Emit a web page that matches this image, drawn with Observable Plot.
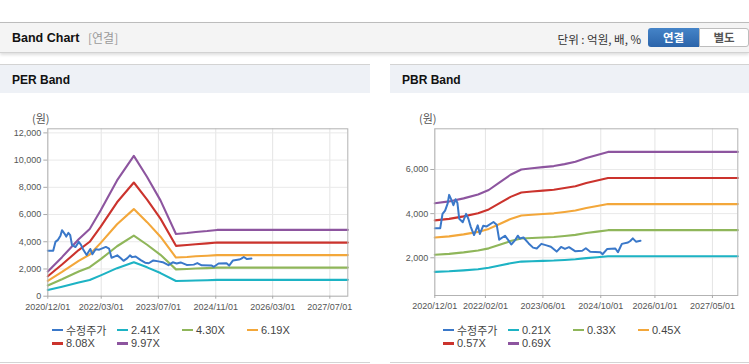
<!DOCTYPE html>
<html><head><meta charset="utf-8">
<script src="https://cdn.jsdelivr.net/npm/d3@7"></script>
<script src="https://cdn.jsdelivr.net/npm/@observablehq/plot@0.6"></script>
<style>
body{margin:0;width:749px;height:364px;overflow:hidden;background:#fff;position:relative;font-family:"Liberation Sans",Arial,"Noto Sans CJK KR",sans-serif;}
.a{position:absolute;}
.kr{font-family:"Noto Sans CJK KR","Liberation Sans",sans-serif;}
.bar{left:0;top:22px;width:749px;height:29px;background:#f4f4f4;border-top:1px solid #bcbcbc;border-bottom:1px solid #d2d2d2;box-shadow:0 2px 3px rgba(0,0,0,0.13);}
.ph{top:64px;height:28px;background:#eef1f6;border-top:1px solid #d3d3d3;}
.pt{font-weight:bold;font-size:12px;color:#111;top:72px;left:12px;line-height:16px;}
.bl{top:362px;height:1px;background:#d4d4d4;}
.unit{font-size:11px;color:#555;line-height:14px;top:111px;}
.legend{display:grid;grid-template-columns:65px 65px 65px 65px;row-gap:0px;top:323px;}
.li{display:flex;align-items:center;height:13.5px;font-size:11px;color:#444;white-space:nowrap;}
.sw{display:inline-block;width:11px;height:2.5px;margin-right:3px;}
.chart svg{max-width:none !important;display:block;}
</style></head>
<body>
<div class="a bar"></div>
<div class="a" style="left:12px;top:30px;font-size:12.5px;font-weight:bold;color:#111;line-height:16px;">Band Chart</div>
<div class="a kr" style="left:88px;top:30px;font-size:12px;color:#9a9a9a;line-height:16px;">[연결]</div>
<div class="a kr" style="right:108px;top:31px;font-size:11.5px;color:#333;line-height:16px;">단위 : 억원, 배, %</div>
<div class="a kr" style="left:648px;top:28px;width:51px;height:19px;background:linear-gradient(#4584c8,#2b64aa);border-radius:3px 0 0 3px;color:#fff;font-weight:bold;font-size:11.5px;line-height:19px;text-align:center;">연결</div>
<div class="a kr" style="left:699px;top:28px;width:48px;height:17px;background:#fff;border:1px solid #bdbdbd;border-radius:0 3px 3px 0;color:#555;font-weight:bold;font-size:11.5px;line-height:17px;text-align:center;">별도</div>

<div class="a ph" style="left:0;width:370px;"></div>
<div class="a pt">PER Band</div>
<div class="a ph" style="left:390px;width:359px;"></div>
<div class="a pt" style="left:402px;">PBR Band</div>
<div class="a bl" style="left:0;width:370px;"></div>
<div class="a bl" style="left:390px;width:359px;"></div>
<div class="a unit kr" style="left:32px;">(원)</div>
<div class="a unit kr" style="left:419px;">(원)</div>
<div id="perChart" class="a chart" style="left:0;top:93px;width:370px;height:225px;"></div>
<div id="pbrChart" class="a chart" style="left:390px;top:93px;width:359px;height:225px;"></div>
<div id="perLegend" class="a legend" style="left:52px;"></div>
<div id="pbrLegend" class="a legend" style="left:443px;"></div>

<script>
// ---- data ----
const priceName = "수정주가";
const priceDates = ["2020-12-01","2021-01-16","2021-02-04","2021-02-26","2021-03-19","2021-04-01","2021-04-22","2021-05-07","2021-05-25","2021-06-10","2021-06-25","2021-07-25","2021-08-22","2021-09-10","2021-10-01","2021-10-28","2021-11-28","2021-12-16","2022-01-13","2022-02-12","2022-04-10","2022-05-07","2022-05-28","2022-07-16","2022-08-13","2022-09-07","2022-10-10","2022-11-01","2022-11-19","2022-12-19","2023-02-01","2023-03-10","2023-04-10","2023-05-19","2023-07-01","2023-08-07","2023-09-25","2023-11-01","2023-12-04","2024-01-07","2024-02-27","2024-04-28","2024-05-28","2024-07-04","2024-09-28","2024-10-16","2024-11-25","2025-02-01","2025-02-23","2025-03-28","2025-05-19","2025-06-07","2025-06-28","2025-07-25","2025-09-01"];
const priceValues = [3340,3340,3990,4140,4450,4850,4600,4380,4650,4480,3770,3610,3990,3770,3390,3030,3470,3080,3450,3420,3620,3500,2820,3000,2800,2600,2800,3000,2870,2920,2650,2460,2420,2630,2560,2500,2280,2490,2400,2480,2300,2320,2430,2270,2250,2160,2400,2420,2250,2630,2690,2760,2880,2730,2770];

const perDates = ["2020-12-01","2021-04-01","2021-08-21","2021-11-23","2022-02-25","2022-07-14","2022-12-04","2023-03-27","2023-07-19","2023-11-28","2024-03-01","2024-05-15","2024-08-20","2024-11-12","2027-12-01"];
const perNames = ["2.41X","4.30X","6.19X","8.08X","9.97X"];
const per241 = [460,700,1010,1190,1530,2060,2490,2120,1700,1120,1130,1150,1170,1200,1200];
const per430 = [790,1240,1810,2130,2720,3670,4450,3780,3040,1970,2000,2030,2060,2100,2100];
const per619 = [1130,1780,2600,3060,3920,5290,6400,5440,4370,2840,2880,2930,2970,3020,3020];
const per808 = [1470,2330,3390,4000,5110,6900,8355,7100,5700,3700,3760,3820,3880,3940,3940];
const per997 = [1810,2870,4190,4940,6310,8510,10310,8760,7040,4570,4640,4720,4790,4870,4870];

const pbrDates = ["2020-12-01","2021-04-01","2021-08-01","2021-12-01","2022-03-01","2022-06-01","2022-09-01","2022-12-01","2023-03-01","2023-06-01","2023-09-01","2023-12-01","2024-03-01","2024-06-01","2024-09-01","2024-12-01","2027-12-01"];
const pbrNames = ["0.21X","0.33X","0.45X","0.57X","0.69X"];
const pbr021 = [1361,1386,1428,1481,1544,1649,1754,1827,1844,1859,1873,1901,1932,1985,2027,2069,2069];
const pbr033 = [2138,2178,2244,2327,2426,2591,2756,2871,2897,2921,2944,2987,3036,3119,3185,3251,3251];
const pbr045 = [2916,2970,3060,3173,3308,3533,3758,3915,3951,3983,4014,4073,4140,4253,4343,4433,4433];
const pbr057 = [3694,3762,3876,4019,4190,4475,4760,4959,5005,5045,5084,5159,5244,5387,5501,5615,5615];
const pbr069 = [4471,4554,4692,4865,5072,5417,5762,6003,6058,6107,6155,6245,6348,6521,6659,6797,6797];

const perXTicks = ["2020-12-01","2022-03-01","2023-07-01","2024-11-01","2026-03-01","2027-07-01"];
const pbrXTicks = ["2020-12-01","2022-02-01","2023-06-01","2024-10-01","2026-01-01","2027-05-01"];
const perYTicks = [0,2000,4000,6000,8000,10000,12000];
const pbrYTicks = [2000,4000,6000];

const priceColor = "#3a78c9";
const bandColors = ["#1db3c4","#8fb65a","#f3a73a","#cb332d","#8d559f"];

// ---- build ----
const P = s => new Date(s);
function rows(dates, vals){ return dates.map((d,i)=>({date:P(d), value:vals[i]})); }
const priceRows = rows(priceDates, priceValues);

function makeChart(el, cfg){
  const marks = [
    Plot.gridX(cfg.xTicks.map(P), {stroke:"#e4e4e4", strokeOpacity:1}),
    Plot.gridY(cfg.yTicks, {stroke:"#e9e9e9", strokeOpacity:1}),
  ];
  cfg.bands.forEach((b,i)=>{
    marks.push(Plot.line(rows(cfg.dates, b), {x:"date", y:"value", stroke:bandColors[i], strokeWidth:2.1}));
  });
  marks.push(Plot.line(priceRows, {x:"date", y:"value", stroke:priceColor, strokeWidth:2}));
  marks.push(Plot.frame({stroke:"#b3b3b3"}));
  marks.push(Plot.axisX(cfg.xTicks.map(P), {label:null, tickFormat:d3.utcFormat("%Y/%m/%d"), tickSize:3, tickPadding:4, stroke:"#aaa", fill:"#555"}));
  marks.push(Plot.axisY(cfg.yTicks, {label:null, tickFormat:d3.format(","), tickSize:4, tickPadding:2.5, stroke:"#aaa", fill:"#555"}));
  const svg = Plot.plot({
    width: cfg.width, height: 225,
    marginLeft: cfg.ml, marginRight: cfg.mr, marginTop: 35.3, marginBottom: cfg.mb,
    style:{fontFamily:"'Liberation Sans', Arial, sans-serif", fontSize:"9px", color:"#555", background:"transparent", overflow:"visible"},
    x:{type:"utc", domain:[P("2020-12-01"), P("2027-12-01")], label:null},
    y:{domain: cfg.yDomain, label:null},
    marks
  });
  document.getElementById(el).appendChild(svg);
}
makeChart("perChart", {width:370, ml:47.3, mr:22.7, mb:22.3, xTicks:perXTicks, yTicks:perYTicks, yDomain:[0,12300], dates:perDates, bands:[per241,per430,per619,per808,per997]});
makeChart("pbrChart", {width:359, ml:44.3, mr:11.7, mb:23, xTicks:pbrXTicks, yTicks:pbrYTicks, yDomain:[290,7845], dates:pbrDates, bands:[pbr021,pbr033,pbr045,pbr057,pbr069]});

function legend(el, names){
  const items = [[priceName, priceColor]].concat(names.map((n,i)=>[n, bandColors[i]]));
  const box = document.getElementById(el);
  items.forEach(([n,c])=>{
    const d = document.createElement("div");
    d.className = "li";
    const s = document.createElement("span"); s.className="sw"; s.style.background=c;
    const t = document.createElement("span"); t.textContent = n;
    if (/[가-힣]/.test(n)) t.className = "kr";
    d.appendChild(s); d.appendChild(t); box.appendChild(d);
  });
}
legend("perLegend", perNames);
legend("pbrLegend", pbrNames);
</script>
</body></html>
